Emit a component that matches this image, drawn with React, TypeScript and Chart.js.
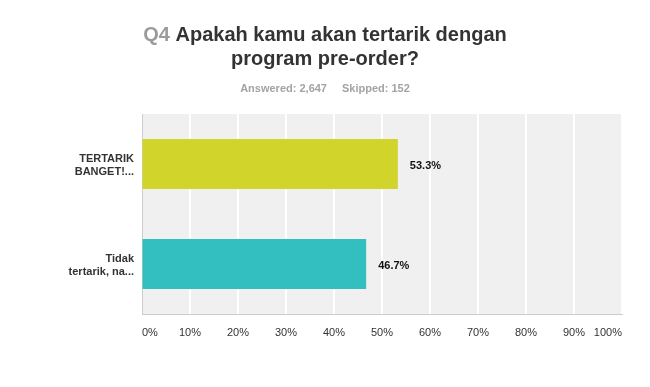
import React, { useEffect, useRef } from "react";
import { Chart, registerables } from "chart.js";

Chart.register(...registerables);

const categories: string[][] = [
  ["TERTARIK", "BANGET!..."],
  ["Tidak", "tertarik, na..."],
];
const values: number[] = [53.3, 46.7];
const barColors: string[] = ["#d1d42b", "#33bfc0"];
const tickValues: number[] = [0, 10, 20, 30, 40, 50, 60, 70, 80, 90, 100];
const titleNumber = "Q4";
const titleLines: string[] = ["Apakah kamu akan tertarik dengan", "program pre-order?"];
const answeredText = "Answered: 2,647";
const skippedText = "Skipped: 152";

const FONT = "Arial, 'Liberation Sans', sans-serif";

const decorPlugin = {
  id: "decor",
  beforeDraw(chart: any) {
    const { ctx, chartArea } = chart;
    ctx.save();
    ctx.fillStyle = "#ffffff";
    ctx.fillRect(0, 0, chart.width, chart.height);
    ctx.fillStyle = "#f0f0f0";
    ctx.fillRect(chartArea.left, chartArea.top, chartArea.right - chartArea.left, chartArea.bottom - chartArea.top);
    ctx.restore();
  },
  afterDraw(chart: any) {
    const { ctx, chartArea } = chart;
    const cx = chart.width / 2;
    ctx.save();
    // Title line 1 (mixed colours)
    ctx.font = `bold 20px ${FONT}`;
    ctx.textBaseline = "alphabetic";
    const qPart = titleNumber + " ";
    const wQ = ctx.measureText(qPart).width;
    const wRest = ctx.measureText(titleLines[0]).width;
    const start = cx - (wQ + wRest) / 2;
    ctx.textAlign = "left";
    ctx.fillStyle = "#9b9b9b";
    ctx.fillText(qPart, start, 40.5);
    ctx.fillStyle = "#333333";
    ctx.fillText(titleLines[0], start + wQ, 40.5);
    ctx.textAlign = "center";
    ctx.fillText(titleLines[1], cx, 64.5);

    // Subtitle
    ctx.font = `bold 11px ${FONT}`;
    ctx.fillStyle = "#a3a3a3";
    const wA = ctx.measureText(answeredText).width;
    const wS = ctx.measureText(skippedText).width;
    const gap = 15;
    const sStart = cx - (wA + gap + wS) / 2;
    ctx.textAlign = "left";
    ctx.fillText(answeredText, sStart, 92);
    ctx.fillText(skippedText, sStart + wA + gap, 92);

    // X tick labels
    const xs = chart.scales.x;
    ctx.font = `11px ${FONT}`;
    ctx.fillStyle = "#333333";
    tickValues.forEach((v, i) => {
      const px = xs.getPixelForValue(v);
      ctx.textAlign = i === 0 ? "left" : i === tickValues.length - 1 ? "right" : "center";
      ctx.fillText(v + "%", px, chartArea.bottom + 22);
    });

    // Y category labels
    const ys = chart.scales.y;
    ctx.font = `bold 11px ${FONT}`;
    ctx.fillStyle = "#333333";
    ctx.textAlign = "right";
    categories.forEach((lines, i) => {
      const py = ys.getPixelForValue(i);
      ctx.fillText(lines[0], chartArea.left - 8, py - 2.5);
      ctx.fillText(lines[1], chartArea.left - 8, py + 10.5);
    });

    // Value labels
    const meta = chart.getDatasetMeta(0);
    ctx.font = `bold 11px ${FONT}`;
    ctx.fillStyle = "#111111";
    ctx.textAlign = "left";
    meta.data.forEach((bar: any, i: number) => {
      ctx.fillText(values[i].toFixed(1) + "%", bar.x + 12, bar.y + 4.5);
    });
    ctx.restore();
  },
};

export default function App() {
  const canvasRef = useRef<HTMLCanvasElement>(null);

  useEffect(() => {
    if (!canvasRef.current) return;
    const chart = new Chart(canvasRef.current, {
      type: "bar",
      data: {
        labels: categories.map((c) => c.join(" ")),
        datasets: [
          {
            data: values,
            backgroundColor: barColors,
            borderWidth: 0,
            barPercentage: 0.5,
            categoryPercentage: 1,
          },
        ],
      },
      options: {
        indexAxis: "y",
        responsive: false,
        animation: false,
        layout: { padding: { left: 142, right: 28, top: 114, bottom: 73 } },
        plugins: {
          legend: { display: false },
          title: { display: false },
          tooltip: { enabled: false },
        },
        scales: {
          x: {
            type: "linear",
            min: 0,
            max: 100,
            ticks: { display: false, stepSize: 10 },
            grid: {
              drawTicks: false,
              color: (c: any) => (c.tick && c.tick.value === 0 ? "#cccccc" : "#ffffff"),
              lineWidth: (c: any) => (c.tick && c.tick.value === 0 ? 1 : 2),
            },
            border: { display: true, color: "#cccccc", width: 1 },
            afterFit: (s: any) => {
              s.height = 0;
            },
          },
          y: {
            type: "category",
            ticks: { display: false },
            grid: { display: false, drawTicks: false },
            border: { display: true, color: "#cccccc", width: 1 },
            afterFit: (s: any) => {
              s.width = 0;
            },
          },
        },
      },
      plugins: [decorPlugin],
    } as any);
    return () => chart.destroy();
  }, []);

  return (
    <div style={{ position: "fixed", left: 0, top: 0, width: 650, height: 387, background: "#fff" }}>
      <canvas ref={canvasRef} width={650} height={387} />
    </div>
  );
}
